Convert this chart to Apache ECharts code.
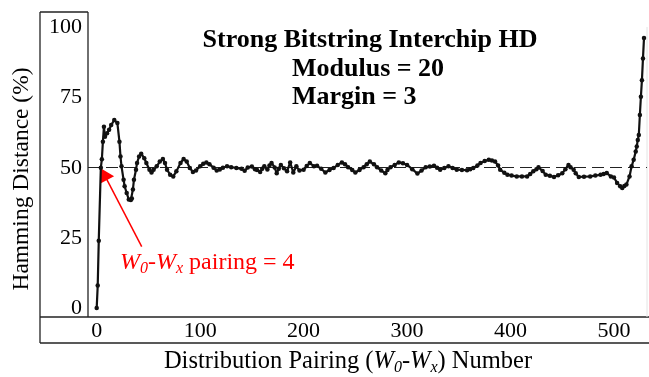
<!DOCTYPE html>
<html>
<head>
<meta charset="utf-8">
<script src="https://cdn.jsdelivr.net/npm/echarts@6/dist/echarts.min.js"></script>
<style>
html,body{margin:0;padding:0;background:#fff;}
#chart{width:649px;height:377px;}
</style>
</head>
<body>
<div id="chart"></div>
<script>
// ---- data ----
var pairings = [0,1,2,4,5,6,7,8,10,12,14,17,20,22,23,24,26,27,29,31,33,34,35,36,38,39,41,43,46,48,51,53,55,58,61,64,66,68,71,74,77,81,84,87,90,93,96,100,103,106,109,113,116,119,122,126,130,135,140,143,146,150,153,155,158,160,162,165,167,169,172,174,176,178,181,184,187,190,193,196,200,203,206,210,213,217,221,225,229,233,237,240,243,247,250,254,258,261,264,268,271,275,279,281,284,288,292,296,300,305,310,314,318,322,326,329,332,336,340,344,348,353,358,361,364,368,371,375,379,382,385,388,390,394,397,401,406,411,416,419,422,425,427,431,434,438,442,446,450,453,456,458,461,463,466,471,477,482,487,490,493,497,500,503,506,508,510,512,515,517,519,521,522,523,524,525,526,527,528,529];
var hdValues = [0,8,24,50,53,59.3,64.6,61,62.3,63.5,65.2,67,65.9,59.3,54,50.5,45.7,43.4,41,38.7,38.5,39,42.2,45.7,49.3,51.7,54,55,53.4,51.7,49.3,48.3,49.3,50.5,52.2,53.1,51.7,49.3,47.5,46.9,48.7,51.7,53.1,52.2,49.9,48.5,49,50.5,51.4,51.9,51.2,50,49,49.4,50,50.5,50.2,49.9,49.6,48.9,50.1,50.4,49.5,49.2,48.5,49.6,50.5,49.4,50.8,51.7,50.1,48,49.6,51,49.8,48.7,51.9,48.3,50.5,49,49.3,50.6,51.7,50.5,50.7,49.6,48.3,49.2,49.9,51,51.9,51.2,50.2,49.2,48.3,49.2,50.2,51.2,52.2,51.2,50.2,49,48,49.2,50.2,51,51.9,51.6,51,49.5,47.9,49,50.2,50.4,50.7,50,49.3,49.9,50.5,49.9,49.3,49.2,49.1,49.5,49.9,50.8,51.7,52.4,52.8,52.6,52.2,50.8,49.3,48.2,47.5,47.2,46.9,46.9,46.9,47.8,48.7,49.5,50.2,48.8,47.5,47.1,46.7,47.3,48,49.5,51,50.2,49.3,48,46.7,46.8,46.9,47.2,47.5,47.8,48.1,46.9,46.5,44.6,43.4,42.8,43.5,44,46.9,50.5,52.8,55.8,57.6,59.9,61.7,68.8,75.3,81.2,88.9,96.2];
var xTicks = [0,100,200,300,400,500];
var yTicks = [0,25,50,75,100];
var refLevel = 50;
var arrowFrom = [43.5, 21.9];
var arrowTo = [7.1, 47.7];

var seriesData = pairings.map(function(p,i){ return [p, hdValues[i]]; });
var FONT = 'Liberation Serif';

var chart = echarts.init(document.getElementById('chart'), null, {renderer:'canvas'});
chart.setOption({
  animation:false,
  backgroundColor:'#fff',
  grid:{left:88,right:2,top:12,bottom:60,containLabel:false},
  xAxis:{
    type:'value', min:-8.4, max:531.9,
    axisLine:{show:false}, axisTick:{show:false}, splitLine:{show:false},
    axisLabel:{customValues:xTicks, margin:3, fontFamily:FONT, fontSize:22, color:'#000'}
  },
  yAxis:{
    type:'value', min:-3.2, max:105.5,
    axisLine:{show:false}, axisTick:{show:false}, splitLine:{show:false},
    axisLabel:{customValues:yTicks, margin:6, fontFamily:FONT, fontSize:22, color:'#000'}
  },
  series:[{
    type:'line',
    data:seriesData,
    symbol:'circle', symbolSize:4.5,
    lineStyle:{color:'#111', width:2.2},
    itemStyle:{color:'#111'},
    z:5,
    markLine:{
      silent:true,
      symbol:'none',
      label:{show:false},
      data:[
        [{yAxis:refLevel, x:88, symbol:'none', lineStyle:{color:'#222', width:1.2, type:[12,6]}},
         {yAxis:refLevel, x:647, symbol:'none'}],
        [{coord:arrowFrom, symbol:'none', lineStyle:{color:'#f00', width:1.5, type:'solid'}},
         {coord:arrowTo, symbol:'triangle', symbolSize:[16,13]}]
      ]
    }
  }],
  graphic:[
    {type:'line', shape:{x1:40,y1:12,x2:40,y2:343}, style:{stroke:'#222',lineWidth:1.3}},
    {type:'line', shape:{x1:40,y1:12,x2:88,y2:12}, style:{stroke:'#222',lineWidth:1.3}},
    {type:'line', shape:{x1:88,y1:12,x2:88,y2:317}, style:{stroke:'#222',lineWidth:1.3}},
    {type:'line', shape:{x1:40,y1:317,x2:649,y2:317}, style:{stroke:'#222',lineWidth:1.3}},
    {type:'line', shape:{x1:40,y1:343,x2:649,y2:343}, style:{stroke:'#222',lineWidth:1.3}},
    {type:'line', shape:{x1:647,y1:27,x2:647,y2:317}, style:{stroke:'#e4e4e4',lineWidth:1}},
    {type:'text', style:{text:'Strong Bitstring Interchip HD', x:370, y:40, fontFamily:FONT, fontSize:26, fontWeight:'bold', fill:'#000', align:'center', verticalAlign:'middle', textAlign:'center', textVerticalAlign:'middle'}},
    {type:'text', style:{text:'Modulus = 20', x:292, y:69, fontFamily:FONT, fontSize:26, fontWeight:'bold', fill:'#000', align:'left', verticalAlign:'middle', textAlign:'left', textVerticalAlign:'middle'}},
    {type:'text', style:{text:'Margin = 3', x:292, y:97, fontFamily:FONT, fontSize:26, fontWeight:'bold', fill:'#000', align:'left', verticalAlign:'middle', textAlign:'left', textVerticalAlign:'middle'}},
    {type:'text', x:22, y:179, rotation:Math.PI/2,
      style:{text:'Hamming Distance (%)', x:0, y:0, fontFamily:FONT, fontSize:23.5, fill:'#000', align:'center', verticalAlign:'middle', textAlign:'center', textVerticalAlign:'middle'}},
    {type:'text', style:{
      text:'Distribution Pairing ({i|W}{s|0}-{i|W}{s|x}) Number', x:348, y:362,
      fontFamily:FONT, fontSize:24.5, lineHeight:27, fill:'#000', align:'center', verticalAlign:'middle', textAlign:'center', textVerticalAlign:'middle',
      rich:{
        i:{fontFamily:FONT, fontSize:24.5, fontStyle:'italic', lineHeight:27, fill:'#000'},
        s:{fontFamily:FONT, fontSize:16, fontStyle:'italic', lineHeight:12, verticalAlign:'bottom', fill:'#000'}
      }}},
    {type:'text', style:{
      text:'{i|W}{s|0}-{i|W}{s|x} pairing = 4', x:120, y:263,
      fontFamily:FONT, fontSize:24, lineHeight:27, fill:'#f00', align:'left', verticalAlign:'middle', textAlign:'left', textVerticalAlign:'middle',
      rich:{
        i:{fontFamily:FONT, fontSize:24, fontStyle:'italic', lineHeight:27, fill:'#f00'},
        s:{fontFamily:FONT, fontSize:16, fontStyle:'italic', lineHeight:12, verticalAlign:'bottom', fill:'#f00'}
      }}}
  ]
});
</script>
</body>
</html>
